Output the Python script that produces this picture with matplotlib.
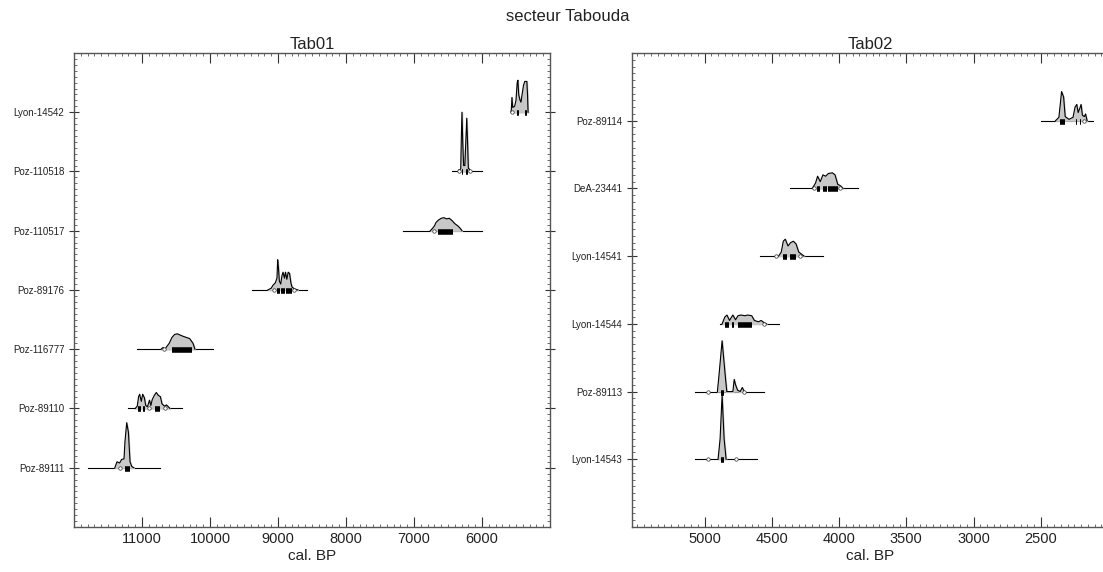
import matplotlib

matplotlib.use("Agg")
import matplotlib.pyplot as plt
from matplotlib.ticker import MultipleLocator

plt.rcParams["font.family"] = ["Liberation Sans", "DejaVu Sans"]

# ---- Tab01 ---------------------------------------------------------------
# labels from bottom row to top row
TAB01_LABELS = ["Poz-89111", "Poz-89110", "Poz-116777", "Poz-89176",
                "Poz-110517", "Poz-110518", "Lyon-14542"]
TAB01_XTICKS = [11000, 10000, 9000, 8000, 7000, 6000]
# full extent of the thin base line (cal. BP)
TAB01_SPANS = [(11795, 10735), (11205, 10410), (11075, 9955), (9380, 8575),
               (7160, 6000), (6440, 6000), (5580, 5320)]
# density outlines: (cal. BP, height in row units)
POZ_89111 = [(11400, 0), (11368, 0.1), (11330, 0.08), (11300, 0.14), (11265, 0.15),
             (11250, 0.45), (11225, 0.76), (11200, 0.6), (11176, 0.1), (11150, 0.02),
             (11120, 0)]
POZ_89110 = [(11100, 0), (11070, 0.04), (11050, 0.2), (11035, 0.24), (11010, 0.12),
             (10990, 0.24), (10965, 0.18), (10945, 0.05), (10920, 0.03), (10890, 0.14),
             (10870, 0.05), (10850, 0.15), (10820, 0.22), (10790, 0.27), (10760, 0.22),
             (10730, 0.2), (10706, 0.08), (10670, 0.04), (10640, 0.06), (10588, 0)]
POZ_116777 = [(10720, 0), (10690, 0.03), (10662, 0.0), (10640, 0.04), (10600, 0.1),
              (10559, 0.2), (10520, 0.25), (10480, 0.26), (10441, 0.24), (10400, 0.22),
              (10350, 0.2), (10300, 0.18), (10250, 0.1), (10221, 0)]
POZ_89176 = [(9150, 0), (9100, 0.03), (9074, 0.08), (9040, 0.12), (9015, 0.2),
             (9005, 0.51), (8995, 0.4), (8980, 0.15), (8960, 0.1), (8940, 0.25),
             (8926, 0.3), (8905, 0.2), (8890, 0.3), (8870, 0.18), (8850, 0.3),
             (8830, 0.28), (8810, 0.12), (8794, 0.05), (8760, 0.02), (8706, 0)]
POZ_110517 = [(6760, 0), (6735, 0.03), (6700, 0.08), (6676, 0.14), (6640, 0.18),
              (6600, 0.21), (6560, 0.22), (6520, 0.2), (6480, 0.21), (6440, 0.17),
              (6400, 0.12), (6353, 0.08), (6320, 0.04), (6294, 0)]
POZ_110518 = [(6350, 0), (6340, 0.03), (6330, 0.01), (6312, 0.05), (6303, 0.6),
              (6294, 1.0), (6283, 0.5), (6270, 0.1), (6252, 0.1), (6238, 0.5),
              (6224, 0.9), (6212, 0.5), (6200, 0.05), (6185, 0.04), (6170, 0)]
LYON_14542 = [(5575, 0), (5568, 0.05), (5559, 0.25), (5548, 0.08), (5520, 0.1),
              (5500, 0.2), (5482, 0.5), (5471, 0.54), (5460, 0.3), (5440, 0.2),
              (5426, 0.17), (5410, 0.3), (5390, 0.45), (5370, 0.52), (5340, 0.52),
              (5330, 0.3), (5322, 0)]
TAB01_DENS = [POZ_89111, POZ_89110, POZ_116777, POZ_89176,
              POZ_110517, POZ_110518, LYON_14542]
# 68% ranges (black boxes)
TAB01_BOXES = [[(11250, 11170)],
               [(11060, 11020), (10990, 10960), (10810, 10730)],
               [(10560, 10260)],
               [(9020, 8970), (8950, 8900), (8880, 8790)],
               [(6650, 6430)],
               [(6300, 6285), (6230, 6212)],
               [(5480, 5462), (5372, 5340)]]
# small open rings at 95% range ends
TAB01_RINGS = [[11330], [10900, 10660], [10670], [9060, 8760],
               [6700], [6340, 6180], [5555]]

# ---- Tab02 ---------------------------------------------------------------
TAB02_LABELS = ["Lyon-14543", "Poz-89113", "Lyon-14544", "Lyon-14541",
                "DeA-23441", "Poz-89114"]
TAB02_XTICKS = [5000, 4500, 4000, 3500, 3000, 2500]
TAB02_SPANS = [(5070, 4610), (5070, 4555), (4885, 4450), (4590, 4120),
               (4365, 3860), (2500, 2115)]
LYON_14543 = [(4900, 0), (4885, 0.3), (4870, 0.95), (4855, 0.3), (4840, 0)]
POZ_89113 = [(4905, 0), (4895, 0.2), (4870, 0.75), (4845, 0.2), (4835, 0),
             (4790, 0), (4780, 0.18), (4770, 0.1), (4755, 0.02), (4735, 0),
             (4720, 0.06), (4705, 0)]
LYON_14544 = [(4870, 0), (4850, 0.1), (4834, 0.13), (4815, 0.05), (4800, 0.1),
              (4790, 0.13), (4770, 0.06), (4752, 0.12), (4730, 0.13), (4700, 0.12),
              (4680, 0.13), (4650, 0.12), (4630, 0.05), (4600, 0.03), (4580, 0.05),
              (4560, 0.02), (4540, 0)]
LYON_14541 = [(4450, 0), (4430, 0.06), (4415, 0.22), (4400, 0.25), (4380, 0.15),
              (4360, 0.2), (4340, 0.22), (4320, 0.18), (4300, 0.06), (4280, 0.03),
              (4260, 0)]
DEA_23441 = [(4200, 0), (4175, 0.08), (4160, 0.18), (4140, 0.1), (4120, 0.2),
             (4100, 0.18), (4080, 0.22), (4050, 0.23), (4030, 0.2), (4010, 0.06),
             (3990, 0.04), (3970, 0)]
POZ_89114 = [(2390, 0), (2365, 0.05), (2345, 0.43), (2330, 0.35), (2318, 0.06),
             (2290, 0.02), (2260, 0.05), (2245, 0.2), (2232, 0.24), (2222, 0.12),
             (2210, 0.18), (2200, 0.24), (2190, 0.08), (2175, 0.06), (2167, 0.1),
             (2155, 0)]
TAB02_DENS = [LYON_14543, POZ_89113, LYON_14544, LYON_14541, DEA_23441, POZ_89114]
TAB02_BOXES = [[(4880, 4855)],
               [(4880, 4855)],
               [(4850, 4815), (4800, 4785), (4752, 4645)],
               [(4420, 4390), (4365, 4320)],
               [(4165, 4140), (4120, 4090), (4080, 4010)],
               [(2355, 2320), (2240, 2230), (2210, 2200)]]
TAB02_RINGS = [[4976, 4767], [4976, 4710], [4560], [4470, 4290],
               [4190, 3990], [2180]]


def draw_panel(ax, labels, spans, dens, boxes, rings, xlim, xticks, minor, title):
    for row, (lab, span, pts, bx, rg) in enumerate(
            zip(labels, spans, dens, boxes, rings), start=1):
        ax.plot(span, [row, row], color="black", lw=0.8, zorder=2)
        xs = [p[0] for p in pts]
        hs = [row + p[1] for p in pts]
        ax.fill_between(xs, row, hs, color="#c8c8c8", zorder=3)
        ax.plot(xs, hs, color="black", lw=0.8, zorder=4)
        for lo, hi in bx:
            ax.plot([lo, hi], [row - 0.015, row - 0.015], color="black", lw=4,
                    solid_capstyle="butt", zorder=5)
        ax.plot(rg, [row] * len(rg), "o", ms=2.5, mfc="white", mec="#333333",
                mew=0.5, zorder=5)

    ax.set_xlim(*xlim)
    ax.set_ylim(0, len(labels) + 1)
    ax.set_xticks(xticks)
    ax.set_yticks(range(1, len(labels) + 1))
    ax.set_yticklabels(labels, fontsize=7)
    ax.xaxis.set_minor_locator(MultipleLocator(minor))
    ax.yaxis.set_minor_locator(MultipleLocator(0.1))
    ax.tick_params(axis="x", which="major", direction="in", length=7, width=0.8,
                   top=True, labelsize=10.5, colors="#333333", labelcolor="#222222")
    ax.tick_params(axis="x", which="minor", direction="in", length=2.5, width=0.6,
                   top=True, colors="#555555")
    ax.tick_params(axis="y", which="major", direction="inout", length=7, width=0.8,
                   right=True, colors="#333333", labelcolor="#222222")
    ax.tick_params(axis="y", which="minor", direction="in", length=2.5, width=0.6,
                   right=True, colors="#555555")
    for s in ax.spines.values():
        s.set_color("#555555")
        s.set_linewidth(1.0)
    ax.set_xlabel("cal. BP", fontsize=11, color="#222222", labelpad=2)
    ax.set_title(title, fontsize=12, color="#222222", pad=3)


fig = plt.figure(figsize=(11.03, 5.72), dpi=100)
ax1 = fig.add_axes([0.0671, 0.0787, 0.4315, 0.8287])
ax2 = fig.add_axes([0.5730, 0.0787, 0.4315, 0.8287])

draw_panel(ax1, TAB01_LABELS, TAB01_SPANS, TAB01_DENS, TAB01_BOXES, TAB01_RINGS,
           (12000, 5000), TAB01_XTICKS, 100, "Tab01")
draw_panel(ax2, TAB02_LABELS, TAB02_SPANS, TAB02_DENS, TAB02_BOXES, TAB02_RINGS,
           (5540, 2000), TAB02_XTICKS, 50, "Tab02")

fig.text(0.515, 0.972, "secteur Tabouda", ha="center", va="center",
         fontsize=12, color="#222222")

fig.savefig("out.png", dpi=100)
